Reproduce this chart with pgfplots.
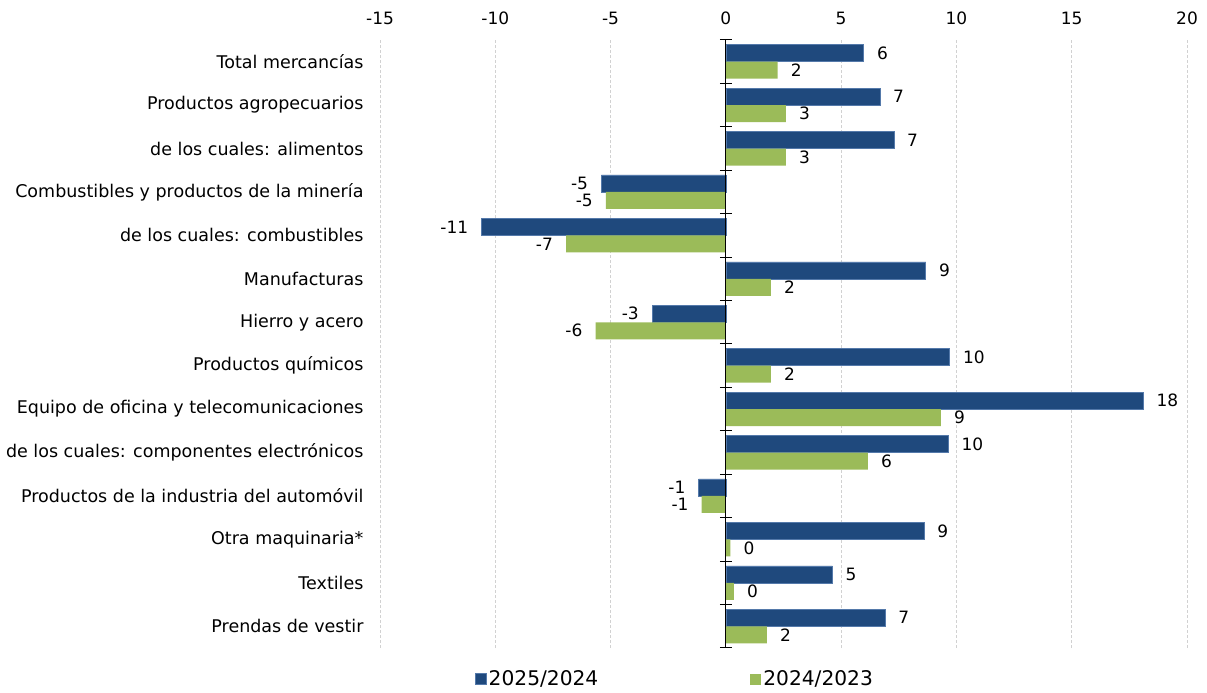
\documentclass[border=0pt]{standalone}
\usepackage{pgfplots}
\pgfplotsset{compat=1.18}
\usepackage{fontspec}
\setmainfont{DejaVu Sans}
\definecolor{darkb}{HTML}{1F497D}
\definecolor{greenb}{HTML}{9BBB59}
\definecolor{darkedge}{HTML}{5479AA}
\begin{document}
\begin{tikzpicture}
\useasboundingbox (0pt,0pt) rectangle (1207pt,693pt);
\begin{axis}[
  at={(380pt,45pt)}, anchor=south west,
  scale only axis, width=807pt, height=608pt,
  xmin=-15, xmax=20, ymin=-0.5, ymax=13.5,
  xtick={-15,-10,-5,0,5,10,15,20},
  xticklabel pos=upper,
  ytick={0,...,13},
  yticklabels={Prendas de vestir,Textiles,Otra maquinaria*,Productos de la industria del automóvil,de los cuales: componentes electrónicos,Equipo de oficina y telecomunicaciones,Productos químicos,Hierro y acero,Manufacturas,de los cuales: combustibles,Combustibles y productos de la minería,de los cuales: alimentos,Productos agropecuarios,Total mercancías},
  axis line style={draw=none},
  major tick length=0pt,
  xmajorgrids,
  grid style={dash pattern=on 3pt off 2pt, color=black!18, line width=0.8pt},
  /pgf/number format/assume math mode=true,
  tick label style={font=\fontsize{17}{20}\selectfont, text=black},
  yticklabel style={font=\fontsize{17.5}{20}\selectfont, xshift=-13pt},
  xticklabel style={yshift=12pt},
  xbar, bar width=17pt,
  point meta=x,
  nodes near coords={\pgfmathprintnumber[fixed,precision=0]{\pgfplotspointmeta}},
  every node near coord/.append style={font=\fontsize{17}{20}\selectfont, inner xsep=13pt, text=black},
  legend style={at={(0.3656,-0.051)}, anchor=center, draw=none, fill=none,
    font=\fontsize{20.2}{24}\selectfont, legend columns=2,
    /tikz/every even column/.append style={column sep=150pt}},
  legend image code/.code={\fill[#1] (-2pt,-5.5pt) rectangle (9pt,5.5pt);},
]
\addplot[fill=darkb, draw=darkedge, line width=0.6pt, bar shift=8.5pt] coordinates {
(6.9,0) (4.62,1) (8.6,2) (-1.18,3) (9.65,4) (18.1,5) (9.71,6) (-3.2,7) (8.67,8) (-10.6,9) (-5.4,10) (7.29,11) (6.68,12) (5.98,13)};
\addlegendentry{2025/2024}
\addplot[fill=greenb, draw=none, bar shift=-8.5pt] coordinates {
(1.78,0) (0.35,1) (0.2,2) (-1.05,3) (6.16,4) (9.33,5) (1.95,6) (-5.65,7) (1.95,8) (-6.93,9) (-5.2,10) (2.6,11) (2.6,12) (2.25,13)};
\addlegendentry{2024/2023}
\end{axis}
\begin{axis}[
  at={(380pt,45pt)}, anchor=south west,
  scale only axis, width=807pt, height=608pt,
  xmin=-15, xmax=20, ymin=-0.5, ymax=13.5,
  axis x line=none, axis y line=center,
  axis line style={-, black, line width=1pt},
  ytick={-0.5,0.5,...,13.5},
  yticklabel style={opacity=0, text opacity=0},
  major tick length=12pt, tick align=center,
  tick style={black, line width=1pt},
]
\addplot[draw=none] coordinates {(0,0)};
\end{axis}
\end{tikzpicture}
\end{document}
